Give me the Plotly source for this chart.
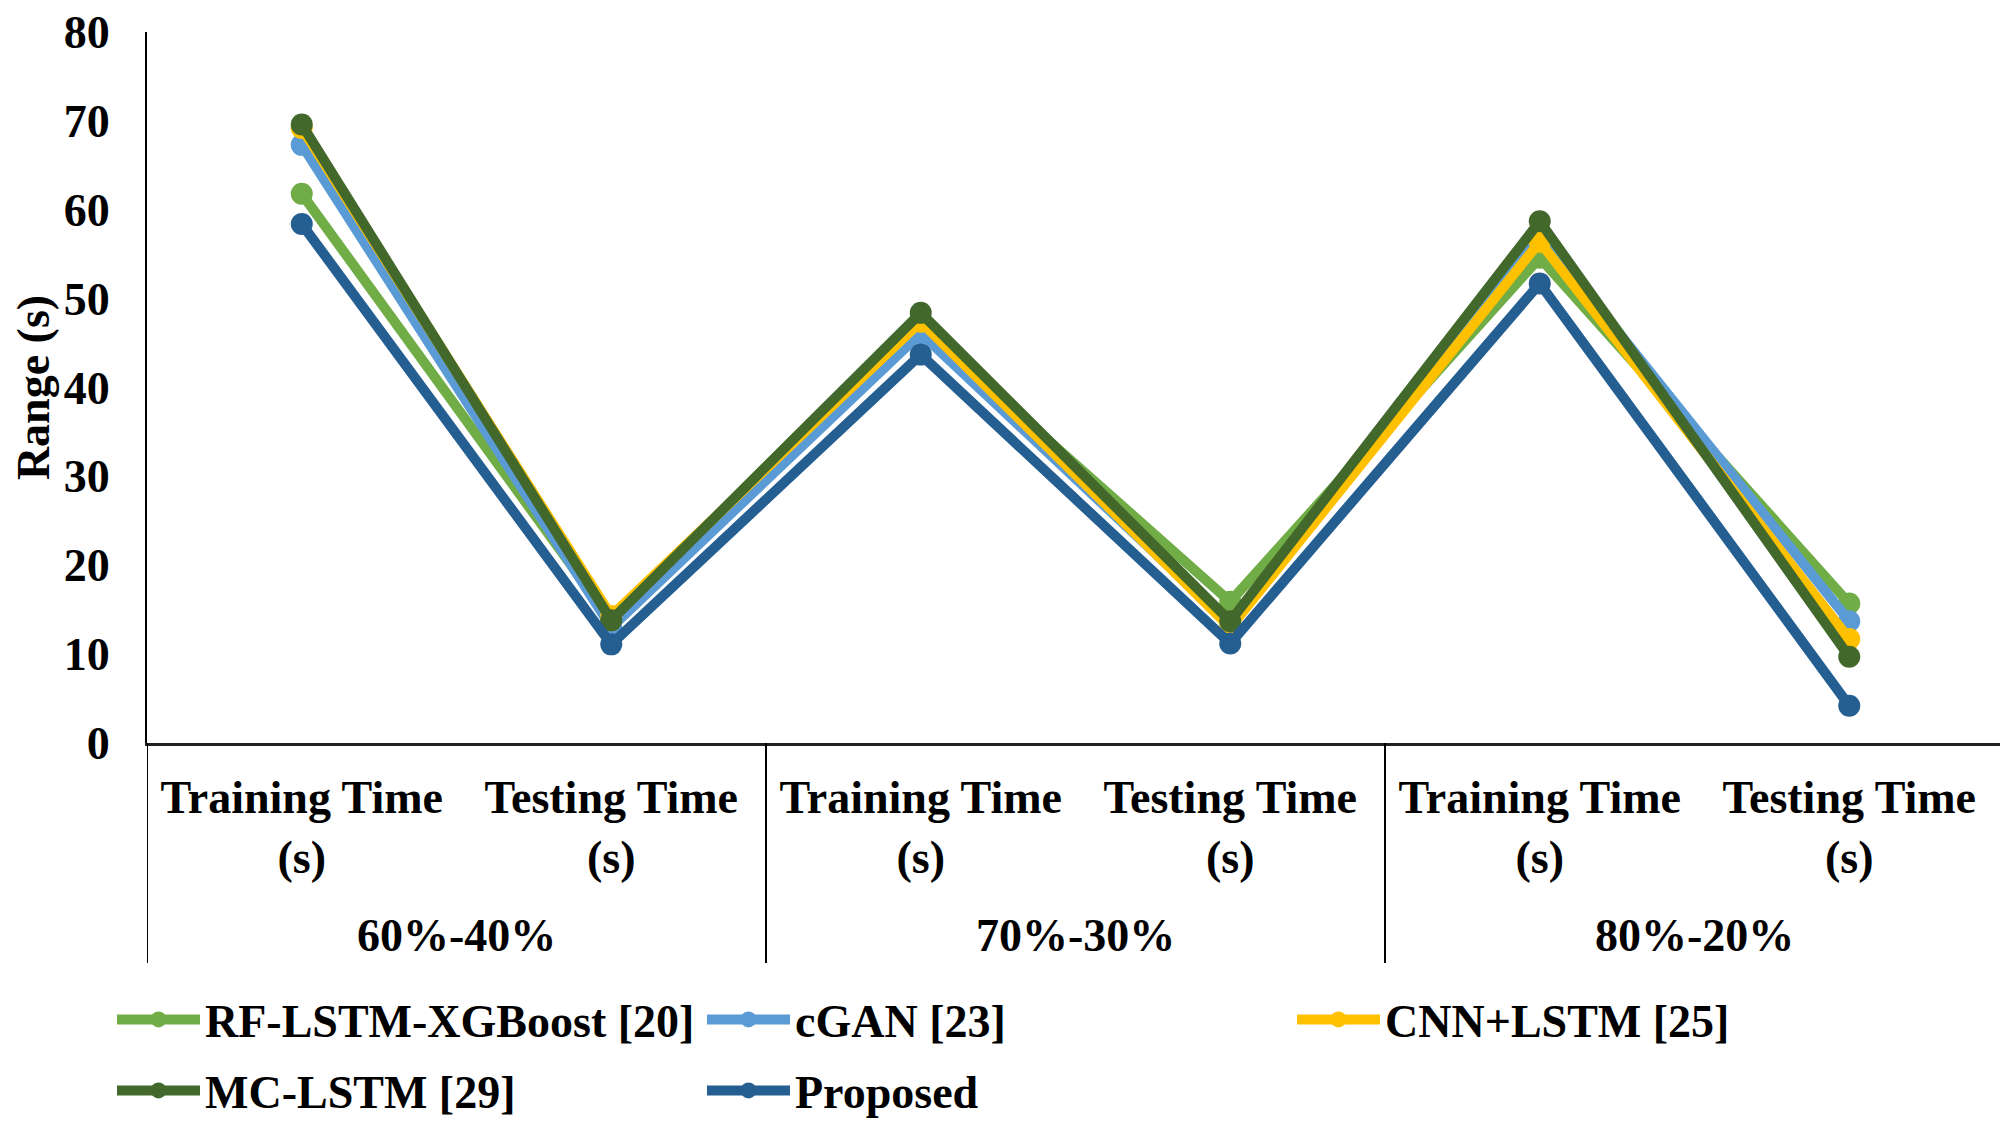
import plotly.graph_objects as go

# ---- data ----
splits = ["60%-40%", "70%-30%", "80%-20%"]
phases = ["Training Time (s)", "Testing Time (s)"]
phase_tick_labels = ["Training Time<br>(s)", "Testing Time<br>(s)"]

rf_lstm_xgboost = [61.8, 13.8, 46.8, 15.9, 54.6, 15.7]
cgan = [67.3, 13.0, 46.1, 13.4, 57.3, 13.7]
cnn_lstm = [69.2, 14.3, 47.4, 13.0, 56.4, 11.7]
mc_lstm = [69.6, 13.8, 48.4, 13.7, 58.7, 9.7]
proposed = [58.4, 11.1, 43.7, 11.2, 51.7, 4.2]

series_names = ["RF-LSTM-XGBoost [20]", "cGAN [23]", "CNN+LSTM [25]", "MC-LSTM [29]", "Proposed"]
series_values = [rf_lstm_xgboost, cgan, cnn_lstm, mc_lstm, proposed]
series_colors = ["#70AD47", "#5B9BD5", "#FFC000", "#43682B", "#255E91"]
legend_rows = ["legend", "legend", "legend", "legend2", "legend2"]

categories = [f"{s} | {p}" for s in splits for p in phases]
tick_text = [t for s in splits for t in phase_tick_labels]

FONT = "Liberation Serif"
FS = 46

fig = go.Figure()
for name, vals, col, lg in zip(series_names, series_values, series_colors, legend_rows):
    fig.add_trace(go.Scatter(
        x=categories, y=vals, name=name, mode="lines+markers",
        line=dict(color=col, width=10),
        marker=dict(color=col, size=22),
        legend=lg,
    ))

# plot-area geometry (figure pixels)
M_TOP, M_BOT = 24, 387
plot_h = 1122 - M_TOP - M_BOT
div_len = 220 / plot_h       # dividers extend 220 px below the axis
grp_off = 192 / plot_h       # group labels 192 px below the axis

# y-axis extension and group dividers below the plot
n_per = len(phases)
boundaries = [-0.5 + i * n_per for i in range(len(splits) + 1)]
for b in boundaries:
    fig.add_shape(type="line", xref="x", yref="paper", x0=b, x1=b, y0=0, y1=-div_len,
                  line=dict(color="black", width=2))

for i, s in enumerate(splits):
    fig.add_annotation(x=i * n_per + (n_per - 1) / 2, xref="x", y=-grp_off, yref="paper",
                       text=s, showarrow=False, yanchor="middle",
                       font=dict(family=FONT, size=FS, color="black", weight="bold"))

legend_common = dict(
    orientation="h", xref="container", yref="container",
    x=0.0518, xanchor="left", yanchor="top",
    entrywidth=492, entrywidthmode="pixels",
    font=dict(family=FONT, size=FS, color="black", weight="bold"),
    itemwidth=83, tracegroupgap=0, bgcolor="rgba(0,0,0,0)",
)

fig.update_layout(
    width=2008, height=1122,
    margin=dict(l=139, r=12, t=M_TOP, b=M_BOT, autoexpand=False),
    paper_bgcolor="white", plot_bgcolor="white",
    font=dict(family=FONT, size=FS, color="black", weight="bold"),
    showlegend=True,
    legend=dict(legend_common, y=0.131),
    legend2=dict(legend_common, y=0.0677),
    xaxis=dict(
        type="category", categoryorder="array", categoryarray=categories,
        range=[-0.5, len(categories) - 0.5],
        tickmode="array", tickvals=categories, ticktext=tick_text,
        showgrid=False, zeroline=False, showline=True, linecolor="#222", linewidth=3,
        ticks="", ticklabelstandoff=12,
        tickfont=dict(family=FONT, size=FS, color="black", weight="bold"),
    ),
    yaxis=dict(
        range=[0, 80], dtick=10, tick0=0,
        showgrid=False, zeroline=False, showline=True, linecolor="black", linewidth=2,
        ticks="", ticklabelstandoff=26, ticklabeloverflow="allow",
        tickfont=dict(family=FONT, size=FS, color="black", weight="bold"),
        title=dict(text="Range (s)", standoff=35,
                   font=dict(family=FONT, size=FS, color="black", weight="bold")),
        automargin=False,
    ),
)

fig.write_html("out.html")
